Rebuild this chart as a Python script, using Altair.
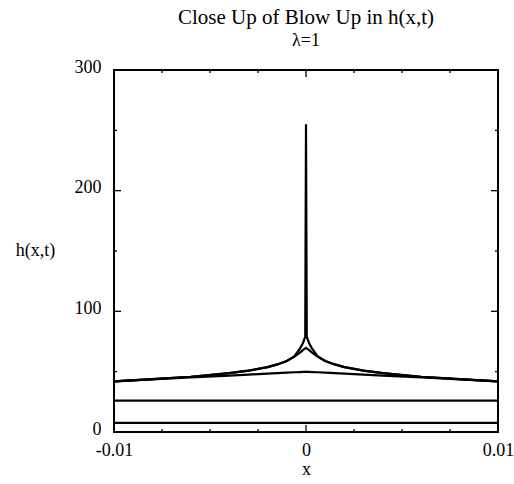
import altair as alt
import pandas as pd

# ---- data ----
x_vals = [-0.01, -0.008, -0.006, -0.004, -0.003, -0.002, -0.0015, -0.001, -0.0006,
          -0.0003, -0.00015, -0.00004, 0.0,
          0.00004, 0.00015, 0.0003, 0.0006, 0.001, 0.0015, 0.002, 0.003, 0.004,
          0.006, 0.008, 0.01]
h_t1 = [7.5] * 25
h_t2 = [26.0] * 25
h_t3 = [42.0, 43.6, 45.2, 46.8, 47.6, 48.4, 48.8, 49.2, 49.5, 49.7, 49.8, 49.9, 50.0,
        49.9, 49.8, 49.7, 49.5, 49.2, 48.8, 48.4, 47.6, 46.8, 45.2, 43.6, 42.0]
h_t4 = [42.0, 43.8, 45.8, 48.8, 50.8, 53.8, 56.0, 58.8, 62.5, 66.0, 68.0, 69.3, 69.8,
        69.3, 68.0, 66.0, 62.5, 58.8, 56.0, 53.8, 50.8, 48.8, 45.8, 43.8, 42.0]
h_t5 = [42.0, 43.8, 45.8, 48.8, 50.8, 53.8, 56.0, 58.8, 62.8, 69.5, 74.0, 79.0, 255.0,
        79.0, 74.0, 69.5, 62.8, 58.8, 56.0, 53.8, 50.8, 48.8, 45.8, 43.8, 42.0]

curves = {"t1": h_t1, "t2": h_t2, "t3": h_t3, "t4": h_t4, "t5": h_t5}

x_major = [-0.01, 0.0, 0.01]
x_minor = [-0.0075, -0.005, -0.0025, 0.0025, 0.005, 0.0075]
y_major = [0, 100, 200, 300]
y_minor = [50, 150, 250]

rows = []
for name, ys in curves.items():
    for i, (xv, yv) in enumerate(zip(x_vals, ys)):
        rows.append({"x": xv, "h": yv, "curve": name, "order": i})
df = pd.DataFrame(rows)

W, H = 384, 362
FONT = "Liberation Serif"

xs = alt.Scale(domain=[-0.01, 0.01], nice=False, zero=False)
ys = alt.Scale(domain=[0, 300], nice=False)

x_axis = alt.Axis(values=x_major, ticks=False, domain=False, grid=False,
                  labelExpr="datum.value < 0 ? '-0.01' : (datum.value > 0 ? '0.01' : '0')",
                  labelFont=FONT, labelFontSize=18, labelColor="black",
                  labelPadding=9, labelFlush=False,
                  title="x", titleFont=FONT, titleFontSize=18,
                  titleFontWeight="normal", titleColor="black",
                  titlePadding=1)
y_axis = alt.Axis(values=y_major, ticks=False, domain=False, grid=False,
                  labelFont=FONT, labelFontSize=18, labelColor="black",
                  labelPadding=13, labelFlush=False, labelOffset=-3,
                  title="h(x,t)", titleFont=FONT, titleFontSize=18,
                  titleFontWeight="normal", titleColor="black",
                  titleAngle=0, titleAlign="center", titleBaseline="middle",
                  titleX=-79, titleY=180)

lines = alt.Chart(df).mark_line(color="black", strokeWidth=2.2).encode(
    x=alt.X("x:Q", scale=xs, axis=x_axis),
    y=alt.Y("h:Q", scale=ys, axis=y_axis),
    detail="curve:N",
    order="order:Q",
)

def xticks(vals, length, top):
    d = pd.DataFrame({"x": vals})
    if top:
        enc = dict(y=alt.value(0), y2=alt.value(length))
    else:
        enc = dict(y=alt.value(H), y2=alt.value(H - length))
    return alt.Chart(d).mark_rule(color="black", strokeWidth=1.3).encode(
        x=alt.X("x:Q", scale=xs, axis=x_axis), **enc)

def yticks(vals, length, right):
    d = pd.DataFrame({"h": vals})
    if right:
        enc = dict(x=alt.value(W), x2=alt.value(W - length))
    else:
        enc = dict(x=alt.value(0), x2=alt.value(length))
    return alt.Chart(d).mark_rule(color="black", strokeWidth=1.3).encode(
        y=alt.Y("h:Q", scale=ys, axis=y_axis), **enc)

tick_layers = [
    xticks(x_major, 7, False), xticks(x_major, 7, True),
    xticks(x_minor, 3, False), xticks(x_minor, 3, True),
    yticks(y_major, 7, False), yticks(y_major, 7, True),
    yticks(y_minor, 3, False), yticks(y_minor, 3, True),
]

chart = alt.layer(lines, *tick_layers).properties(
    width=W, height=H,
    background="white",
    autosize=alt.AutoSizeParams(type="none"),
    padding={"left": 114, "top": 70, "right": 16, "bottom": 52},
    title=alt.TitleParams(
        "Close Up of Blow Up in h(x,t)", subtitle="λ=1",
        font=FONT, fontSize=21, fontWeight="normal", color="black",
        subtitleFont=FONT, subtitleFontSize=18, subtitleColor="black",
        subtitlePadding=4, anchor="middle", offset=8),
).configure_view(stroke="black", strokeWidth=2)

chart.save("out.html", embed_options={"renderer": "svg", "actions": False})
